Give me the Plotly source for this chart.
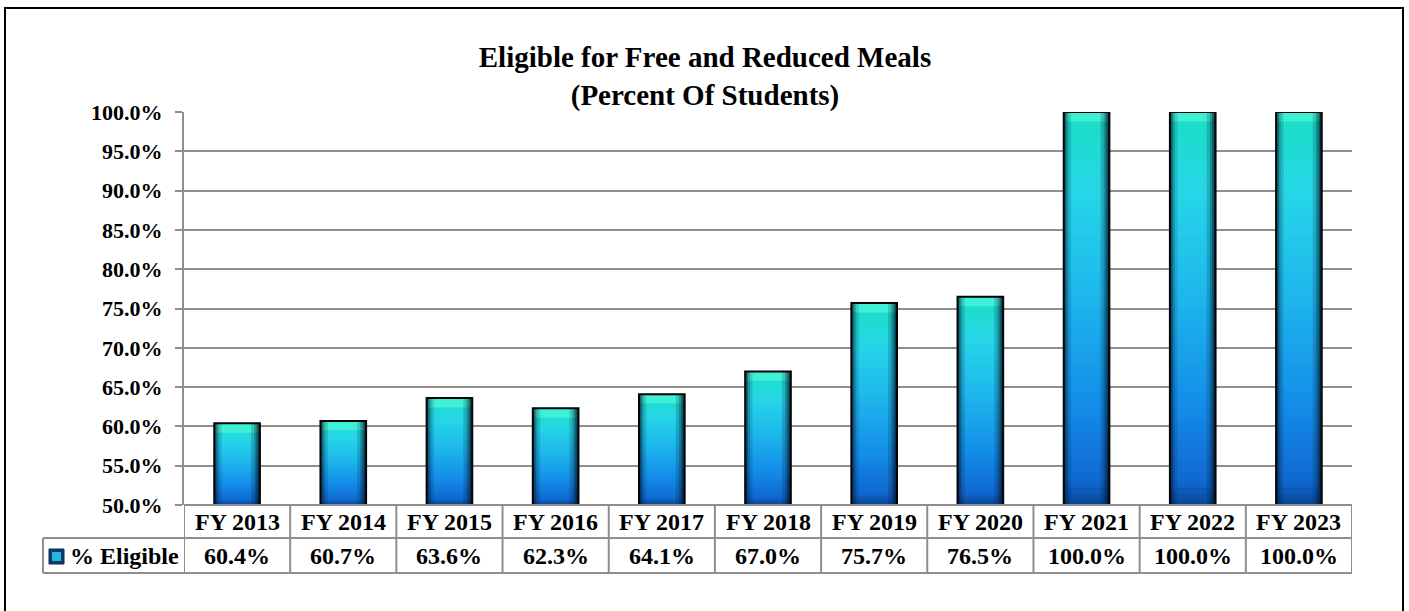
import plotly.graph_objects as go

categories = ["FY 2013", "FY 2014", "FY 2015", "FY 2016", "FY 2017", "FY 2018",
              "FY 2019", "FY 2020", "FY 2021", "FY 2022", "FY 2023"]
eligible_pct = [60.4, 60.7, 63.6, 62.3, 64.1, 67.0, 75.7, 76.5, 100.0, 100.0, 100.0]
series_name = "% Eligible"
y_ticks = [50, 55, 60, 65, 70, 75, 80, 85, 90, 95, 100]

W, H = 1409, 611
L, R, T, B = 184, 1352, 112, 505
AXIS_MIN, AXIS_MAX = 50, 100
FONT = "Liberation Serif"
GRID = "#8e8e8e"
BAR_W = 0.43


def px_x(x):
    return (x - L) / (R - L)


def px_y(y):
    return (B - y) / (B - T)


stops = [(0.0, (8, 70, 150)), (0.06, (16, 104, 208)), (0.25, (20, 140, 232)),
         (0.55, (30, 185, 236)), (0.8, (38, 214, 230)), (1.0, (26, 222, 196))]


def grad(t):
    for (a, ca), (b, cb) in zip(stops[:-1], stops[1:]):
        if a <= t <= b:
            f = (t - a) / (b - a)
            c = [round(ca[i] + (cb[i] - ca[i]) * f) for i in range(3)]
            return "rgb(%d,%d,%d)" % tuple(c)
    return "rgb(%d,%d,%d)" % stops[-1][1]


fig = go.Figure()
N = 70
for k in range(N):
    fig.add_trace(go.Bar(
        x=categories,
        base=[AXIS_MIN + (v - AXIS_MIN) * k / N for v in eligible_pct],
        y=[(v - AXIS_MIN) * (1 - k / N) for v in eligible_pct],
        width=BAR_W, marker=dict(color=grad((k + 0.5) / N), line=dict(width=0)),
        showlegend=False, hoverinfo="skip"))

# top bevel
fig.add_trace(go.Bar(
    x=categories, base=[v - 1.2 for v in eligible_pct], y=[1.2 for v in eligible_pct],
    width=BAR_W, marker=dict(color="rgb(64,240,214)", line=dict(width=0)),
    showlegend=False, hoverinfo="skip"))

# side shading
for w, a in [(0.07, 0.14), (0.045, 0.2), (0.028, 0.3), (0.014, 0.4)]:
    fig.add_trace(go.Bar(
        x=categories, base=[AXIS_MIN] * len(eligible_pct),
        y=[v - AXIS_MIN for v in eligible_pct], width=w, offset=-BAR_W / 2,
        marker=dict(color="rgba(0,20,40,%.2f)" % a, line=dict(width=0)),
        showlegend=False, hoverinfo="skip"))
    fig.add_trace(go.Bar(
        x=categories, base=[AXIS_MIN] * len(eligible_pct),
        y=[v - AXIS_MIN for v in eligible_pct], width=w * 1.2, offset=BAR_W / 2 - w * 1.2,
        marker=dict(color="rgba(0,20,40,%.2f)" % min(a * 1.25, 0.6), line=dict(width=0)),
        showlegend=False, hoverinfo="skip"))

# outline
fig.add_trace(go.Bar(
    x=categories, base=[AXIS_MIN] * len(eligible_pct),
    y=[v - AXIS_MIN for v in eligible_pct], width=BAR_W, name=series_name,
    marker=dict(color="rgba(0,0,0,0)", line=dict(color="#050505", width=2)),
    showlegend=False))

shapes = []
# table lines
y_hdr_top, y_mid, y_bot = 505, 538, 573
line = dict(color=GRID, width=2)
shapes.append(dict(type="line", xref="paper", yref="paper", x0=0, x1=1,
                   y0=px_y(y_hdr_top), y1=px_y(y_hdr_top), line=line))
for yy in (y_mid, y_bot):
    shapes.append(dict(type="line", xref="paper", yref="paper", x0=px_x(43), x1=1,
                       y0=px_y(yy), y1=px_y(yy), line=line))
for i in range(len(categories) + 1):
    shapes.append(dict(type="line", xref="x", yref="paper", x0=i - 0.5, x1=i - 0.5,
                       y0=px_y(y_bot), y1=px_y(y_hdr_top), line=line))
shapes.append(dict(type="line", xref="paper", yref="paper", x0=px_x(43), x1=px_x(43),
                   y0=px_y(y_bot), y1=px_y(y_mid), line=line))
# legend key
shapes.append(dict(type="rect", xref="paper", yref="paper", x0=px_x(49), x1=px_x(64),
                   y0=px_y(564), y1=px_y(549), fillcolor="#0c3c6c",
                   line=dict(color="#0a2a4a", width=1)))
shapes.append(dict(type="rect", xref="paper", yref="paper", x0=px_x(52), x1=px_x(61),
                   y0=px_y(561), y1=px_y(552), fillcolor="#22b8e0", line=dict(width=0)))
# outer border
shapes.append(dict(type="rect", xref="paper", yref="paper", x0=px_x(5), x1=px_x(1403),
                   y0=px_y(640), y1=px_y(8), line=dict(color="#000000", width=2),
                   fillcolor="rgba(0,0,0,0)", layer="above"))

annotations = []
for i, (c, v) in enumerate(zip(categories, eligible_pct)):
    annotations.append(dict(x=i, xref="x", y=px_y((y_hdr_top + y_mid) / 2), yref="paper",
                            text=c, showarrow=False, xanchor="center", yanchor="middle",
                            font=dict(family=FONT, size=24, color="#000", weight="bold")))
    annotations.append(dict(x=i, xref="x", y=px_y((y_mid + y_bot) / 2), yref="paper",
                            text="%.1f%%" % v, showarrow=False, xanchor="center",
                            yanchor="middle",
                            font=dict(family=FONT, size=24, color="#000", weight="bold")))
annotations.append(dict(x=px_x(68), xref="paper", y=px_y((y_mid + y_bot) / 2), yref="paper",
                        text=series_name, showarrow=False, xanchor="left", yanchor="middle",
                        font=dict(family=FONT, size=24, color="#000", weight="bold")))

fig.update_layout(
    width=W, height=H,
    margin=dict(l=L, r=W - R, t=T, b=H - B, pad=0),
    paper_bgcolor="white", plot_bgcolor="white",
    barmode="overlay",
    title=dict(text="Eligible for Free and Reduced Meals<br>(Percent Of Students)",
               x=705 / W, xanchor="center", xref="container",
               y=1 - 67 / H, yanchor="top", yref="container",
               font=dict(family=FONT, size=29, color="#000", weight="bold")),
    xaxis=dict(type="category", range=[-0.5, len(categories) - 0.5],
               showticklabels=False, showgrid=False, zeroline=False, showline=False,
               ticks=""),
    yaxis=dict(range=[AXIS_MIN, AXIS_MAX], tickvals=y_ticks,
               ticktext=["%.1f%%" % t for t in y_ticks],
               tickfont=dict(family=FONT, size=22, color="#000", weight="bold"),
               showgrid=True, gridcolor=GRID, gridwidth=1.5, zeroline=False,
               showline=True, linecolor=GRID, linewidth=2,
               ticks="outside", ticklen=7, tickcolor=GRID, tickwidth=1.5,
               ticklabelstandoff=8),
    shapes=shapes, annotations=annotations,
    font=dict(family=FONT),
)

fig.write_html("out.html", config={"displayModeBar": False},
               post_script="document.body.style.margin='0';document.body.style.overflow='hidden';")
